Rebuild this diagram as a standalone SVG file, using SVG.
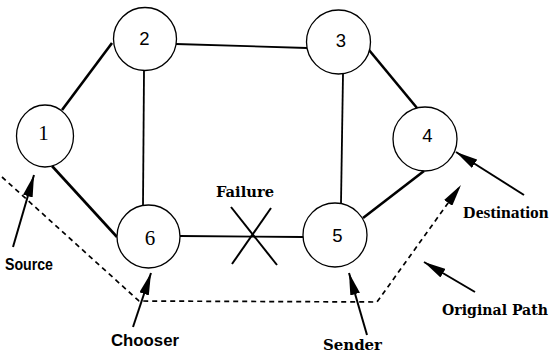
<svg xmlns="http://www.w3.org/2000/svg" width="556" height="355" viewBox="0 0 556 355">
  <style>
    .node { fill: #fff; stroke: #000; stroke-width: 1.3; }
    .num { font-family: "Liberation Sans", Arial, sans-serif; font-size: 18.5px; text-anchor: middle; fill: #000; }
    .numS { font-family: "Liberation Serif", "Times New Roman", serif; font-size: 21px; text-anchor: middle; fill: #000; }
    .link { stroke: #000; stroke-linecap: butt; fill: none; }
    .thick { stroke-width: 2.6; }
    .thin { stroke-width: 1.8; }
    .path { stroke: #000; stroke-width: 1.7; stroke-dasharray: 5 4; fill: none; }
    .ptr { stroke: #000; stroke-width: 2; fill: none; }
    .lbl { font-family: "DejaVu Serif", "Liberation Serif", serif; font-weight: bold; font-size: 15px; fill: #000; }
    .lblS { font-family: "Liberation Sans", Arial, sans-serif; font-weight: bold; font-size: 16px; fill: #000; }
    .lblR { font-family: "Liberation Serif", "Times New Roman", serif; font-weight: bold; font-size: 17.5px; fill: #000; }
  </style>
  <defs>
    <marker id="head" markerUnits="userSpaceOnUse" markerWidth="22" markerHeight="10" viewBox="0 0 22 10" refX="22" refY="5" orient="auto">
      <path d="M0,0 L22,5 L0,10 z" fill="#000"/>
    </marker>
  </defs>

  <!-- network links, failure mark, route and pointer arrows -->
  <g id="connectors">
    <line class="link thick" x1="62" y1="110" x2="112" y2="43"/>
    <line class="link thin" x1="176" y1="44" x2="307" y2="48"/>
    <line class="link thin" x1="144" y1="71" x2="143" y2="205"/>
    <line class="link thick" x1="369" y1="50" x2="417" y2="108"/>
    <line class="link thin" x1="343" y1="74" x2="341" y2="203"/>
    <line class="link thick" x1="52" y1="166" x2="117" y2="237"/>
    <line class="link thin" x1="180" y1="236" x2="303" y2="237"/>
    <line class="link thick" x1="363" y1="218" x2="424" y2="171"/>

    <!-- broken link marker -->
    <line class="link" stroke-width="2" x1="231" y1="207" x2="277" y2="265"/>
    <line class="link" stroke-width="2" x1="271" y1="208" x2="232" y2="264"/>

    <!-- original route -->
    <path class="path" d="M2,177 L139,301 L377,302 L461,185" marker-end="url(#head)"/>

    <!-- label pointers -->
    <line class="ptr" x1="13" y1="247" x2="34" y2="175" marker-end="url(#head)"/>
    <line class="ptr" x1="133" y1="327" x2="151" y2="273" marker-end="url(#head)"/>
    <line class="ptr" x1="367" y1="335" x2="349" y2="273" marker-end="url(#head)"/>
    <line class="ptr" x1="475" y1="292" x2="424" y2="262" marker-end="url(#head)"/>
    <line class="ptr" x1="524" y1="195" x2="456" y2="152" marker-end="url(#head)"/>
  </g>

  <g id="n1">
    <ellipse class="node" cx="45" cy="136" rx="28.5" ry="31"/>
    <text class="numS" x="43.5" y="140">1</text>
  </g>
  <g id="n2">
    <circle class="node" cx="145" cy="39" r="31.5"/>
    <text class="num" x="144.5" y="45">2</text>
  </g>
  <g id="n3">
    <circle class="node" cx="338.5" cy="42" r="32"/>
    <text class="num" x="341" y="46.5">3</text>
  </g>
  <g id="n4">
    <circle class="node" cx="425" cy="139" r="32"/>
    <text class="num" x="427.5" y="141.5">4</text>
  </g>
  <g id="n5">
    <circle class="node" cx="335" cy="235" r="32"/>
    <text class="num" x="337.5" y="241.5">5</text>
  </g>
  <g id="n6">
    <circle class="node" cx="148.5" cy="236.5" r="31.5"/>
    <text class="numS" x="150" y="245">6</text>
  </g>

  <g id="labels">
    <text class="lbl" x="216" y="197" textLength="58" lengthAdjust="spacingAndGlyphs" font-size="14">Failure</text>
    <text class="lblS" x="5" y="270" textLength="48" lengthAdjust="spacingAndGlyphs">Source</text>
    <text class="lblS" x="111" y="346" textLength="68" lengthAdjust="spacingAndGlyphs">Chooser</text>
    <text class="lbl" x="323" y="350" textLength="59" lengthAdjust="spacingAndGlyphs" font-size="14.5">Sender</text>
    <text class="lbl" x="442" y="315" textLength="106" lengthAdjust="spacingAndGlyphs">Original Path</text>
    <text class="lblR" x="463" y="218">Destination</text>
  </g>
</svg>
